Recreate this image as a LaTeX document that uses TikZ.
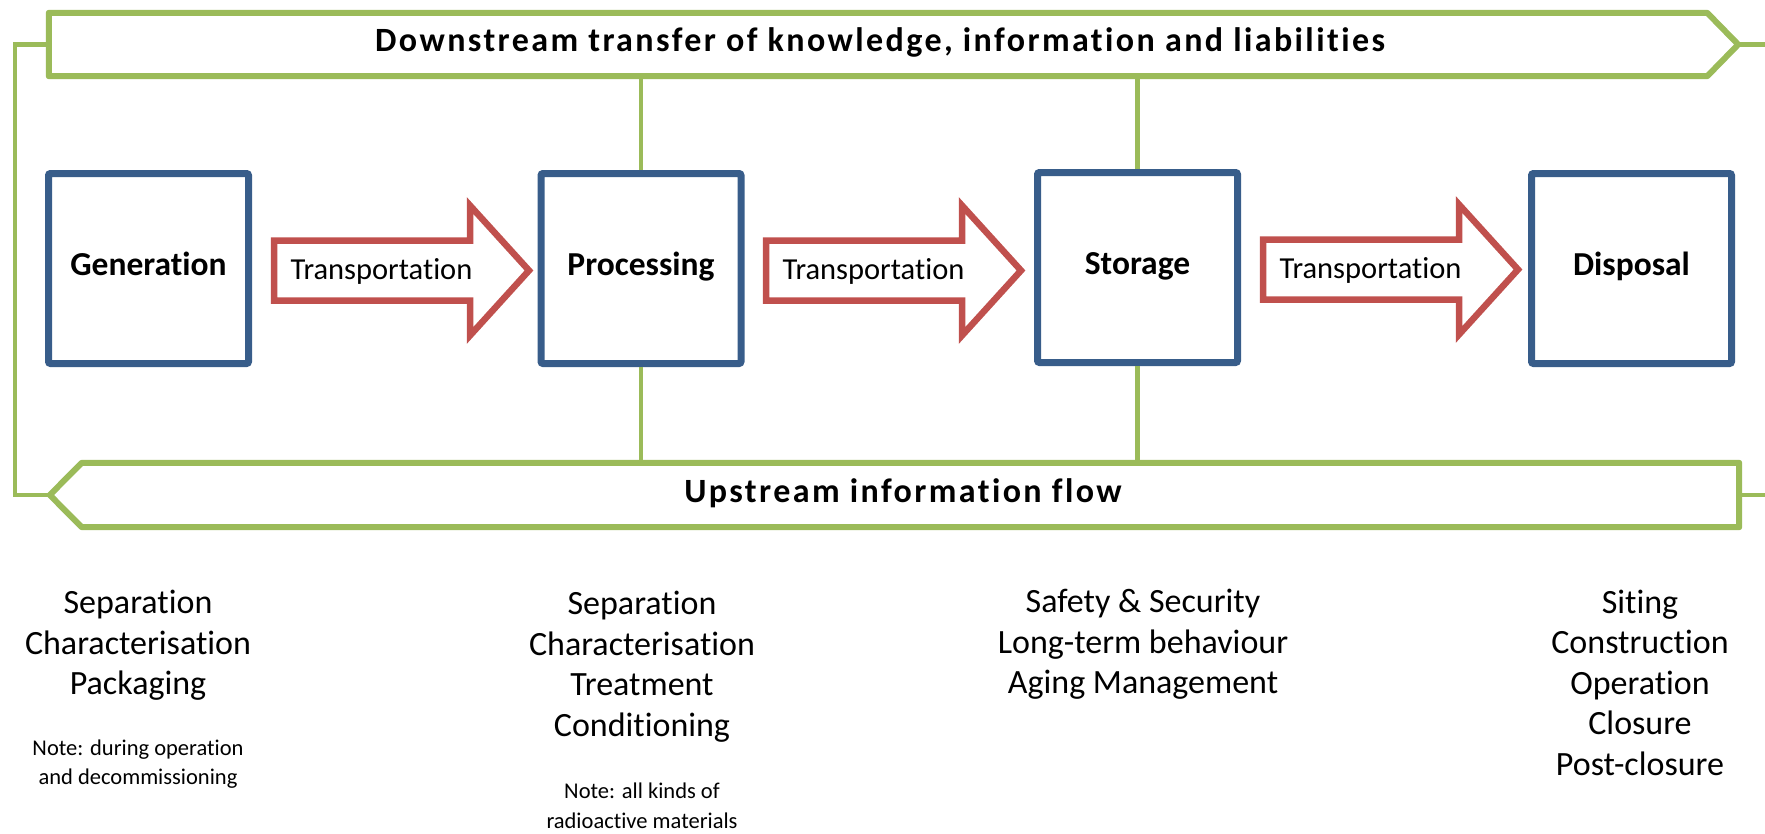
\documentclass[tikz,border=0pt]{standalone}
\usepackage{fontspec}
\setmainfont{Carlito}[Ligatures=NoCommon]
\newfontfamily\bannerfont{Carlito}[LetterSpace=7.1,Ligatures=NoCommon]
\usetikzlibrary{calc}
\definecolor{grn}{HTML}{9BBB59}
\definecolor{blu}{HTML}{385D8A}
\definecolor{rd}{HTML}{C0504D}
\begin{document}
\begin{tikzpicture}[x=1pt,y=-1pt,
 banner/.style={draw=none, minimum height=63pt, inner sep=0pt},
 bannerline/.style={draw=grn, line width=6pt, line join=round},
 link/.style={draw=grn, line width=4.5pt},
 stage/.style={draw=blu, line width=7pt, rounded corners=2pt, minimum width=200pt, minimum height=190pt, inner sep=0pt, text height=22pt, text depth=9pt, font=\fontsize{33.5}{38}\selectfont\bfseries},
 transp/.style={draw=rd, line width=6.5pt, line join=miter},
 transptext/.style={font=\fontsize{30.5}{36}\selectfont, anchor=base, inner sep=0pt},
 bantext/.style={font=\bannerfont\bfseries\fontsize{34}{40}\selectfont, anchor=base, inner sep=0pt},
 task/.style={font=\fontsize{34}{40.5}\selectfont, align=center, anchor=base, inner sep=0pt},
 note/.style={font=\fontsize{22.5}{29.5}\selectfont, align=center, anchor=base, inner sep=0pt},
]
\useasboundingbox (0,0) rectangle (1765,833);

% top banner
\node[banner, minimum width=1658pt] (down) at (878,44.5) {};
\draw[bannerline] (down.north west) -- (down.north east) -- ($(down.east)+(31,0)$) coordinate (downtip) -- (down.south east) -- (down.south west) -- cycle;
\node[bantext] (downtext) at (880,51) {Downstream transfer of knowledge, information and liabilities};

% bottom banner
\node[banner, minimum width=1657pt, minimum height=64pt] (up) at (910.5,495) {};
\draw[bannerline] (up.north east) -- (up.north west) -- ($(up.west)+(-32,0)$) coordinate (uptip) -- (up.south west) -- (up.south east) -- cycle;
\node[bantext] (uptext) at (903,502) {Upstream information flow};

% stages
\node[stage] (gen) at (148.5,268.5) {Generation};
\node[stage] (proc) at (641,268.5) {Processing};
\node[stage] (stor) at (1137.5,267.5) {Storage};
\node[stage] (disp) at (1631.5,268.5) {Disposal};

% transportation arrows
\foreach \a/\n/\dx in {gen/t1/22, proc/t2/21.5, stor/t3/22} {
  \coordinate (\n) at ($(\a.east)+(\dx,2.5)$);
  \draw[transp] (\n) ++(0,-30.5) -- ++(196,0) -- ++(0,-35) -- ++(59,65) -- ++(-59,65) -- ++(0,-35) -- ++(-196,0) -- cycle;
  \node[transptext] (\n txt) at ($(\n)+(107.5,8)$) {Transportation};
}

% green links
\draw[link] (proc.north) -- (proc.north |- down.south);
\draw[link] (proc.south) -- (proc.south |- up.north);
\draw[link] (stor.north) -- (stor.north |- down.south);
\draw[link] (stor.south) -- (stor.south |- up.north);
\draw[link] (down.west) -- ++(-34,0) |- (uptip);
\coordinate (rA) at (1765,44.5);
\coordinate (rB) at (1765,495);
\draw[link] (downtip) -- (rA);
\draw[link] (up.east) -- (rB);

% activities (anchor = baseline of last line)
\node[task] (g1) at (138,694.5) {Separation\\Characterisation\\Packaging};
\node[note] (g2) at (138,784.5) {Note: during operation\\and decommissioning};
\node[task] (p1) at (642,736) {Separation\\Characterisation\\Treatment\\Conditioning};
\node[note] (p2) at (642,828) {Note: all kinds of\\radioactive materials};
\node[task] (s1) at (1143,693.5) {Safety \& Security\\Long-term behaviour\\Aging Management};
\node[task] (d1) at (1640,775) {Siting\\Construction\\Operation\\Closure\\Post-closure};
\end{tikzpicture}
\end{document}
